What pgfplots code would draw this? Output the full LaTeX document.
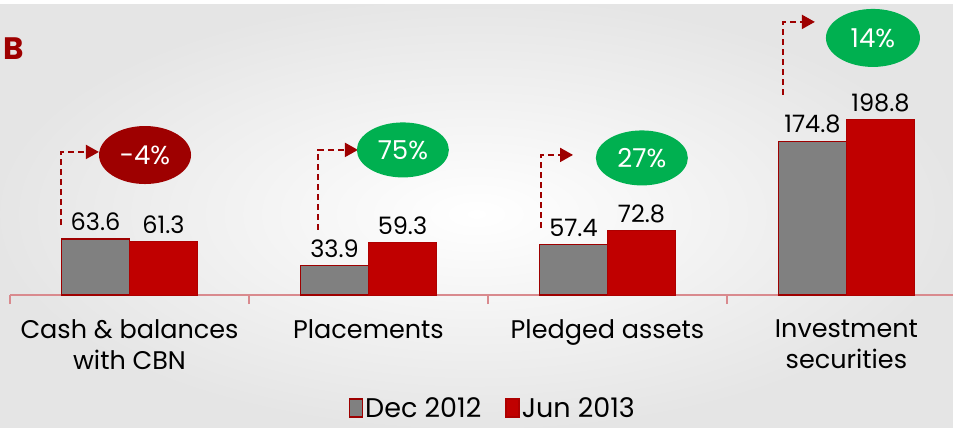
\documentclass[border=0pt]{standalone}
\usepackage{pgfplots}
\pgfplotsset{compat=1.18}
\usepackage{fontspec}
\setmainfont{Poppins}
\usetikzlibrary{arrows.meta,shapes.geometric}
\definecolor{cgrey}{HTML}{808080}
\definecolor{cred}{HTML}{C00000}
\definecolor{cdark}{HTML}{9E0000}
\definecolor{cgreen}{HTML}{00B050}
\definecolor{axisred}{HTML}{D98A8E}
\begin{document}
\begin{tikzpicture}[x=1pt,y=1pt]
\useasboundingbox (0,0) rectangle (953,-428);
\shade[inner color=white, outer color=black!10] (0,0) rectangle (953,-428);
\fill[white] (0,0) rectangle (953,-4);
\node[anchor=west, inner sep=0pt, font=\fontsize{31}{31}\selectfont\bfseries, text=cdark] at (3,-49) {B};
\begin{axis}[
  at={(10pt,-295pt)}, anchor=south west,
  scale only axis, width=943pt, height=290pt,
  xmin=-0.5, xmax=3.446, ymin=0, ymax=329.4,
  axis x line*=bottom, axis y line=none,
  axis line style={axisred, line width=1.5pt},
  xtick={0,1,2,3},
  xticklabels={{Cash \& balances\\with CBN},{Placements},{Pledged assets},{Investment\\securities}},
  major tick length=0pt,
  minor xtick={-0.5,0.5,1.5,2.5,3.5}, minor tick length=9pt,
  tick align=outside,
  minor tick style={axisred, line width=1.5pt},
  xticklabel style={align=center, font=\fontsize{25.5}{31}\selectfont, yshift=-21pt},
  ybar, bar width=68pt,
  clip=false,
  nodes near coords,
  /pgf/number format/.cd, fixed, precision=1, fixed zerofill, assume math mode=true, /pgfplots/.cd,
  nodes near coords style={font=\fontsize{24}{24}\selectfont, black, yshift=4pt},
  legend columns=2,
  legend style={at={(0.512,-0.39)}, anchor=center, draw=none, fill=none,
    font=\fontsize{27}{27}\selectfont,
    /tikz/every even column/.append style={column sep=22pt}},
  legend image code/.code={\draw[#1, line width=1.5pt] (0pt,-9pt) rectangle (13pt,9pt);},
]
\addplot[fill=cgrey, draw=cdark, line width=1.2pt, bar shift=-34pt] coordinates {(0,63.6) (1,33.9) (2,57.4) (3,174.8)};
\addplot[fill=cred, draw=cred!90!black, line width=1pt, bar shift=34pt] coordinates {(0,61.3) (1,59.3) (2,72.8) (3,198.8)};
\legend{Dec 2012, Jun 2013}

\tikzset{growarrow/.style={cdark, line width=2pt, dash pattern=on 6pt off 4pt, -{Triangle[length=13pt,width=14pt]}},
  pct/.style={ellipse, minimum width=92pt, minimum height=55pt, inner sep=0pt, text=white, font=\fontsize{26}{26}\selectfont}}
\draw[growarrow] (axis cs:-0.287,79.5) |- (axis cs:-0.128,162.5);
\node[pct, fill=cdark, minimum height=58pt] at (axis cs:0.065,159) {-4\%};
\draw[growarrow] (axis cs:0.789,73.9) |- (axis cs:0.956,164.8);
\node[pct, fill=cgreen] at (axis cs:1.144,164.8) {75\%};
\draw[growarrow] (axis cs:1.722,76.1) |- (axis cs:1.856,159.1);
\node[pct, fill=cgreen] at (axis cs:2.144,155.7) {27\%};
\draw[growarrow] (axis cs:2.734,227.3) |- (axis cs:2.868,310.2);
\node[pct, fill=cgreen, minimum width=94pt, minimum height=58pt] at (axis cs:3.111,292) {14\%};
\end{axis}
\end{tikzpicture}
\end{document}
